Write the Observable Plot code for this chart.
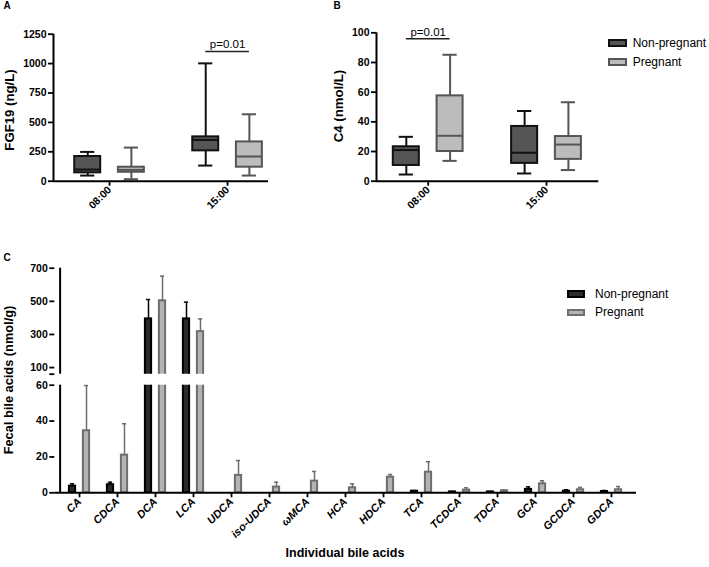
<!DOCTYPE html>
<html><head><meta charset="utf-8">
<script src="https://cdn.jsdelivr.net/npm/d3@7"></script>
<script src="https://cdn.jsdelivr.net/npm/@observablehq/plot@0.6"></script>
<style>
body{margin:0;background:#fff;}
#fig{position:relative;width:709px;height:567px;overflow:hidden;font-family:"Liberation Sans",Arial,Helvetica,sans-serif;color:#000;background:#fff;}
.panel{position:absolute;}
.txt{position:absolute;white-space:nowrap;line-height:1;}
.rot{transform:translate(-50%,-50%) rotate(-90deg);font-weight:bold;}
.ctr{transform:translate(-50%,-50%);}
.bold{font-weight:bold;}
.letter{font-weight:bold;font-size:10px;}
.leg{position:absolute;font-size:12px;}
.leg .row{position:absolute;left:0;white-space:nowrap;display:flex;align-items:center;}
.leg .sw{display:inline-block;box-sizing:border-box;}
</style></head>
<body><div id="fig"></div>
<script>
// ---------- data ----------
const times = ["08:00", "15:00"];
const groups = ["Non-pregnant", "Pregnant"];
// five-number summaries [min, q1, median, q3, max], one per time point
const fgf19NonPregnant = [[48, 71, 99, 210, 249], [133, 258, 351, 377, 1002]];
const fgf19Pregnant = [[17, 76, 96, 119, 286], [48, 119, 210, 334, 569]];
const c4NonPregnant = [[4.5, 10.6, 21, 23.2, 29.9], [5.2, 12, 19.2, 36.9, 47.3]];
const c4Pregnant = [[13.7, 20, 30.6, 57.5, 85.2], [7.5, 14.7, 24.7, 30.1, 53.2]];
const fgf19Ticks = [0, 250, 500, 750, 1000, 1250];
const c4Ticks = [0, 20, 40, 60, 80, 100];
const fgf19Annot = [{time: "15:00", y: 1103, label: "p=0.01"}];
const c4Annot = [{time: "08:00", y: 96, label: "p=0.01"}];

const bileAcids = ["CA", "CDCA", "DCA", "LCA", "UDCA", "iso-UDCA", "ωMCA", "HCA", "HDCA", "TCA", "TCDCA", "TDCA", "GCA", "GCDCA", "GDCA"];
const nonPregnantMean = [3.7, 4.5, 394, 394, 0, 0, 0, 0, 0, 0.9, 0.5, 0.5, 1.9, 0.9, 0.7];
const nonPregnantErr  = [1.3, 1.4, 117, 101, 0, 0, 0, 0, 0, 0.3, 0.2, 0.2, 1.4, 0.8, 0.6];
const pregnantMean    = [34.6, 21.0, 503, 317, 9.7, 3.2, 6.5, 2.8, 8.7, 11.5, 1.5, 1.1, 5.0, 1.7, 1.7];
const pregnantErr     = [25.2, 17.5, 149, 77, 8.3, 2.7, 5.4, 2.2, 1.5, 5.8, 1.3, 0.4, 1.7, 1.3, 1.8];
const upperTicks = [60, 100, 300, 500, 700];
const lowerTicks = [0, 20, 40, 60];

// ---------- helpers ----------
const fig = document.getElementById("fig");
const FONT = '"Liberation Sans", Arial, Helvetica, sans-serif';
const AX = "#000";
function place(node, left, top) {
  const d = document.createElement("div");
  d.className = "panel"; d.style.left = left + "px"; d.style.top = top + "px";
  d.appendChild(node); fig.appendChild(d);
}
function text(str, x, y, cls, size) {
  const d = document.createElement("div");
  d.className = "txt " + cls; d.textContent = str;
  d.style.left = x + "px"; d.style.top = y + "px";
  if (size) d.style.fontSize = size + "px";
  fig.appendChild(d);
}
function legend(x, yc, gap, swW, swH, textX, cols) {
  const L = document.createElement("div");
  L.className = "leg"; L.style.left = x + "px"; L.style.top = "0px";
  groups.forEach((g, i) => {
    const r = document.createElement("div");
    r.className = "row";
    r.style.top = (yc + i * gap - 8) + "px"; r.style.height = "16px";
    const s = document.createElement("span");
    s.className = "sw";
    s.style.width = swW + "px"; s.style.height = swH + "px";
    s.style.background = cols[i].fill; s.style.border = "2px solid " + cols[i].stroke;
    s.style.marginRight = (textX - swW) + "px";
    r.appendChild(s); r.appendChild(document.createTextNode(g));
    L.appendChild(r);
  });
  fig.appendChild(L);
}

const boxCols = [{fill: "#555555", stroke: "#111111"}, {fill: "#bcbcbc", stroke: "#555555"}];
const barCols = [{fill: "#2a2a2a", stroke: "#000000"}, {fill: "#b3b3b3", stroke: "#6e6e6e"}];
const plotStyle = {fontFamily: FONT, fontWeight: "bold", fontSize: "10.5px", background: "transparent", overflow: "visible", color: "#000"};

function boxPanel({series, ticks, annot, xDomain, width, height, mt, mb, ml, mr}) {
  const off = 0.185, hw = 0.11, cw = 0.06;
  const rows = [];
  series.forEach((arr, g) => arr.forEach((s, t) => rows.push({
    time: times[t], group: groups[g], g, pos: t + (g ? off : -off),
    min: s[0], q1: s[1], med: s[2], q3: s[3], max: s[4]
  })));
  const marks = [];
  [0, 1].forEach(g => {
    const data = rows.filter(d => d.g === g);
    const c = boxCols[g];
    marks.push(
      Plot.ruleX(data, {x: "pos", y1: "min", y2: "max", stroke: c.stroke, strokeWidth: 2}),
      Plot.ruleY(data, {y: "min", x1: d => d.pos - cw, x2: d => d.pos + cw, stroke: c.stroke, strokeWidth: 2}),
      Plot.ruleY(data, {y: "max", x1: d => d.pos - cw, x2: d => d.pos + cw, stroke: c.stroke, strokeWidth: 2}),
      Plot.rect(data, {x1: d => d.pos - hw, x2: d => d.pos + hw, y1: "q1", y2: "q3", fill: c.fill, stroke: c.stroke, strokeWidth: 2}),
      Plot.ruleY(data, {y: "med", x1: d => d.pos - hw, x2: d => d.pos + hw, stroke: c.stroke, strokeWidth: 2})
    );
  });
  marks.push(
    Plot.ruleY(annot, {y: "y", x1: d => times.indexOf(d.time) - off, x2: d => times.indexOf(d.time) + off, stroke: "#222", strokeWidth: 1.4}),
    Plot.text(annot, {x: d => times.indexOf(d.time), y: "y", text: "label", lineAnchor: "bottom", dy: -3, fontWeight: "normal", fontSize: 11.5}),
    Plot.ruleX([xDomain[0]], {stroke: AX, strokeWidth: 2}),
    Plot.ruleY([ticks[0]], {stroke: AX, strokeWidth: 2}),
    Plot.axisY({ticks, tickFormat: d => String(d), tickSize: 5, tickPadding: 2, strokeWidth: 1.8, fontSize: 10.5, label: null}),
    Plot.axisX({ticks: [0, 1], tickFormat: i => times[i], tickRotate: -45, tickSize: 5, tickPadding: 2, strokeWidth: 1.8, fontSize: 10.5, label: null})
  );
  return Plot.plot({
    width, height, marginTop: mt, marginBottom: mb, marginLeft: ml, marginRight: mr,
    style: plotStyle,
    x: {type: "linear", domain: xDomain},
    y: {domain: [ticks[0], ticks[ticks.length - 1]]},
    marks
  });
}

// ---------- panel A ----------
place(boxPanel({series: [fgf19NonPregnant, fgf19Pregnant], ticks: fgf19Ticks, annot: fgf19Annot,
  xDomain: [-0.475, 1.347], width: 280, height: 230, mt: 33.7, mb: 49.3, ml: 53, mr: 12}), 0, 0);
// ---------- panel B ----------
place(boxPanel({series: [c4NonPregnant, c4Pregnant], ticks: c4Ticks, annot: c4Annot,
  xDomain: [-0.437, 1.442], width: 320, height: 230, mt: 32.3, mb: 49.3, ml: 86, mr: 11.7}), 290, 0);

text("A", 7, 6, "ctr letter");
text("B", 337, 6, "ctr letter");
text("C", 7, 258, "ctr letter");
text("FGF19 (ng/L)", 10, 110, "rot", 13.2);
text("C4 (nmol/L)", 339, 106, "rot", 13.2);
legend(608.3, 42.7, 19.6, 18.4, 8, 24.4, boxCols);

// ---------- panel C ----------
const cW = 650, cML = 54.3, cMR = 14;
const bw = (cW - cML - cMR) / bileAcids.length;
const barHalf = 3.5, barOff = 7;
const cRows = [];
[[nonPregnantMean, nonPregnantErr], [pregnantMean, pregnantErr]].forEach(([m, e], g) =>
  bileAcids.forEach((name, i) => cRows.push({name, g, mean: m[i], err: e[i]})));

function barMarks(filterBar, filterErr) {
  const marks = [];
  [0, 1].forEach(g => {
    const c = barCols[g];
    const sgn = g ? 1 : -1;
    const left = bw / 2 + sgn * barOff - barHalf;
    const right = bw - (bw / 2 + sgn * barOff + barHalf);
    const data = cRows.filter(d => d.g === g && d.mean > 0);
    marks.push(
      Plot.barY(data.filter(filterBar), {x: "name", y1: 0, y2: "mean", insetLeft: left, insetRight: right,
        fill: c.fill, stroke: c.stroke, strokeWidth: 2, clip: true}),
      Plot.ruleX(data.filter(filterErr), {x: "name", y1: "mean", y2: d => d.mean + d.err, dx: sgn * barOff,
        stroke: c.stroke, strokeWidth: 1.5}),
      Plot.tickY(data.filter(filterErr), {x: "name", y: d => d.mean + d.err, dx: sgn * barOff,
        insetLeft: bw / 2 - 2.5, insetRight: bw / 2 - 2.5, stroke: c.stroke, strokeWidth: 1.5})
    );
  });
  return marks;
}
// vertical axis line at the left edge of the first band
const yAxisLine = Plot.ruleX([bileAcids[0]], {x: d => d, dx: -bw / 2, stroke: AX, strokeWidth: 2});

const upper = Plot.plot({
  width: cW, height: 128, marginTop: 17.7, marginBottom: 4.3, marginLeft: cML, marginRight: cMR,
  style: plotStyle,
  x: {type: "band", domain: bileAcids, paddingInner: 0, paddingOuter: 0, axis: null},
  y: {domain: [60, 700]},
  marks: [
    ...barMarks(d => d.mean > 60, d => d.mean > 60),
    yAxisLine,
    Plot.axisY({ticks: upperTicks, tickFormat: d => (d === 60 ? "" : String(d)), tickSize: 5, tickPadding: 2, strokeWidth: 1.8, fontSize: 10.5, label: null})
  ]
});
place(upper, 0, 250);

const lower = Plot.plot({
  width: cW, height: 189, marginTop: 6.7, marginBottom: 74.7, marginLeft: cML, marginRight: cMR,
  style: plotStyle,
  x: {type: "band", domain: bileAcids, paddingInner: 0, paddingOuter: 0},
  y: {domain: [0, 60]},
  marks: [
    ...barMarks(d => true, d => d.mean < 60),
    yAxisLine,
    Plot.ruleY([0], {stroke: AX, strokeWidth: 2}),
    Plot.axisY({ticks: lowerTicks, tickFormat: d => String(d), tickSize: 5, tickPadding: 2, strokeWidth: 1.8, fontSize: 10.5, label: null}),
    Plot.axisX({tickRotate: -45, tickSize: 5, tickPadding: 2, strokeWidth: 1.8, fontSize: 11, fontStyle: "italic", label: null})
  ]
});
place(lower, 0, 378);

text("Fecal bile acids (nmol/g)", 9, 380, "rot", 12.8);
text("Individual bile acids", 345, 553, "ctr bold", 12.5);
legend(566.7, 294, 18.3, 18.3, 7.5, 28.3, barCols);
</script></body></html>
